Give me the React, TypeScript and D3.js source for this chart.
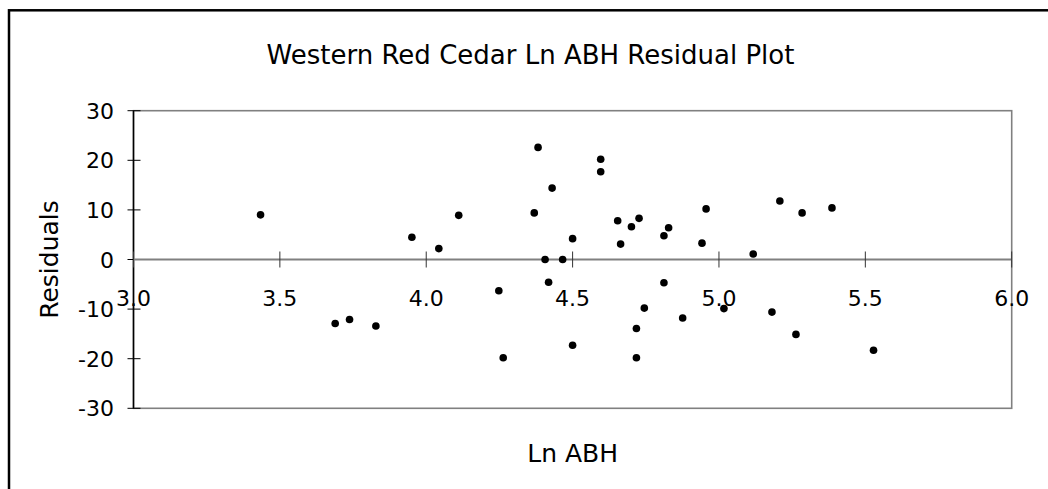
import React from "react";
import * as d3 from "d3";

// Ln ABH values and their regression residuals
const lnAbh: number[] = [
  3.434, 3.951, 3.689, 3.738, 3.828,
  4.043, 4.111, 4.248, 4.263, 4.369, 4.382, 4.406, 4.418, 4.43, 4.466,
  4.5, 4.5, 4.596, 4.596, 4.654, 4.664, 4.701, 4.727, 4.718, 4.718,
  4.745, 4.812, 4.828, 4.812, 4.876, 4.942, 4.956,
  5.017, 5.117, 5.181, 5.208, 5.263, 5.284, 5.386, 5.528,
];
const residuals: number[] = [
  9.0, 4.5, -12.9, -12.1, -13.4,
  2.2, 8.9, -6.3, -19.8, 9.4, 22.6, 0.0, -4.6, 14.4, 0.0,
  4.2, -17.3, 20.2, 17.7, 7.8, 3.1, 6.6, 8.3, -13.9, -19.8,
  -9.8, 4.8, 6.4, -4.7, -11.8, 3.3, 10.2,
  -9.9, 1.1, -10.6, 11.8, -15.1, 9.4, 10.4, -18.3,
];

const xTicks: number[] = [3.0, 3.5, 4.0, 4.5, 5.0, 5.5, 6.0];
const yTicks: number[] = [-30, -20, -10, 0, 10, 20, 30];

const title = "Western Red Cedar Ln ABH Residual Plot";
const xTitle = "Ln ABH";
const yTitle = "Residuals";

const W = 1048;
const H = 489;
const FONT = "'DejaVu Sans', Verdana, sans-serif";

export default function App() {
  const plot = { left: 133.5, right: 1011.7, top: 110.7, bottom: 408.3 };
  const x = d3.scaleLinear().domain([3, 6]).range([plot.left, plot.right]);
  const y = d3.scaleLinear().domain([-30, 30]).range([plot.bottom, plot.top]);
  const fmt = d3.format(".1f");
  const y0 = y(0);

  return (
    <svg
      width={W}
      height={H}
      style={{ position: "absolute", left: 0, top: 0, background: "#fff" }}
      fontFamily={FONT}
    >
      {/* chart frame */}
      <rect x={9} y={10.3} width={1200} height={800} fill="#fff" stroke="#000" strokeWidth={2.5} />

      <text x={530.5} y={64} textAnchor="middle" fontSize={26} fill="#000">
        {title}
      </text>

      {/* plot area */}
      <rect
        x={plot.left}
        y={plot.top}
        width={plot.right - plot.left}
        height={plot.bottom - plot.top}
        fill="#fff"
        stroke="#808080"
        strokeWidth={1.6}
      />

      {/* y axis */}
      <line x1={x(3)} x2={x(3)} y1={plot.top} y2={plot.bottom} stroke="#000" strokeWidth={1.5} />
      {yTicks.map((t) => (
        <g key={"yt" + t}>
          <line x1={x(3) - 6} x2={x(3) + 7} y1={y(t)} y2={y(t)} stroke="#000" strokeWidth={1} />
          <text x={114} y={y(t) + 8} textAnchor="end" fontSize={22} fill="#000">
            {t}
          </text>
        </g>
      ))}

      {/* x axis drawn at residual = 0 */}
      <line x1={plot.left} x2={plot.right} y1={y0} y2={y0} stroke="#808080" strokeWidth={2} />
      {xTicks.map((t) => (
        <g key={"xt" + t}>
          <line x1={x(t)} x2={x(t)} y1={y0 - 8} y2={y0 + 8} stroke="#333" strokeWidth={1} />
          <text x={x(t)} y={y0 + 46} textAnchor="middle" fontSize={22} fill="#000">
            {fmt(t)}
          </text>
        </g>
      ))}

      {/* residual points */}
      {lnAbh.map((v, i) => (
        <circle key={"p" + i} cx={x(v)} cy={y(residuals[i])} r={3.8} fill="#000" />
      ))}

      <text x={572.6} y={461.7} textAnchor="middle" fontSize={25} fill="#000">
        {xTitle}
      </text>
      <text
        transform={`translate(58, ${(plot.top + plot.bottom) / 2}) rotate(-90)`}
        textAnchor="middle"
        fontSize={25}
        fill="#000"
      >
        {yTitle}
      </text>
    </svg>
  );
}
